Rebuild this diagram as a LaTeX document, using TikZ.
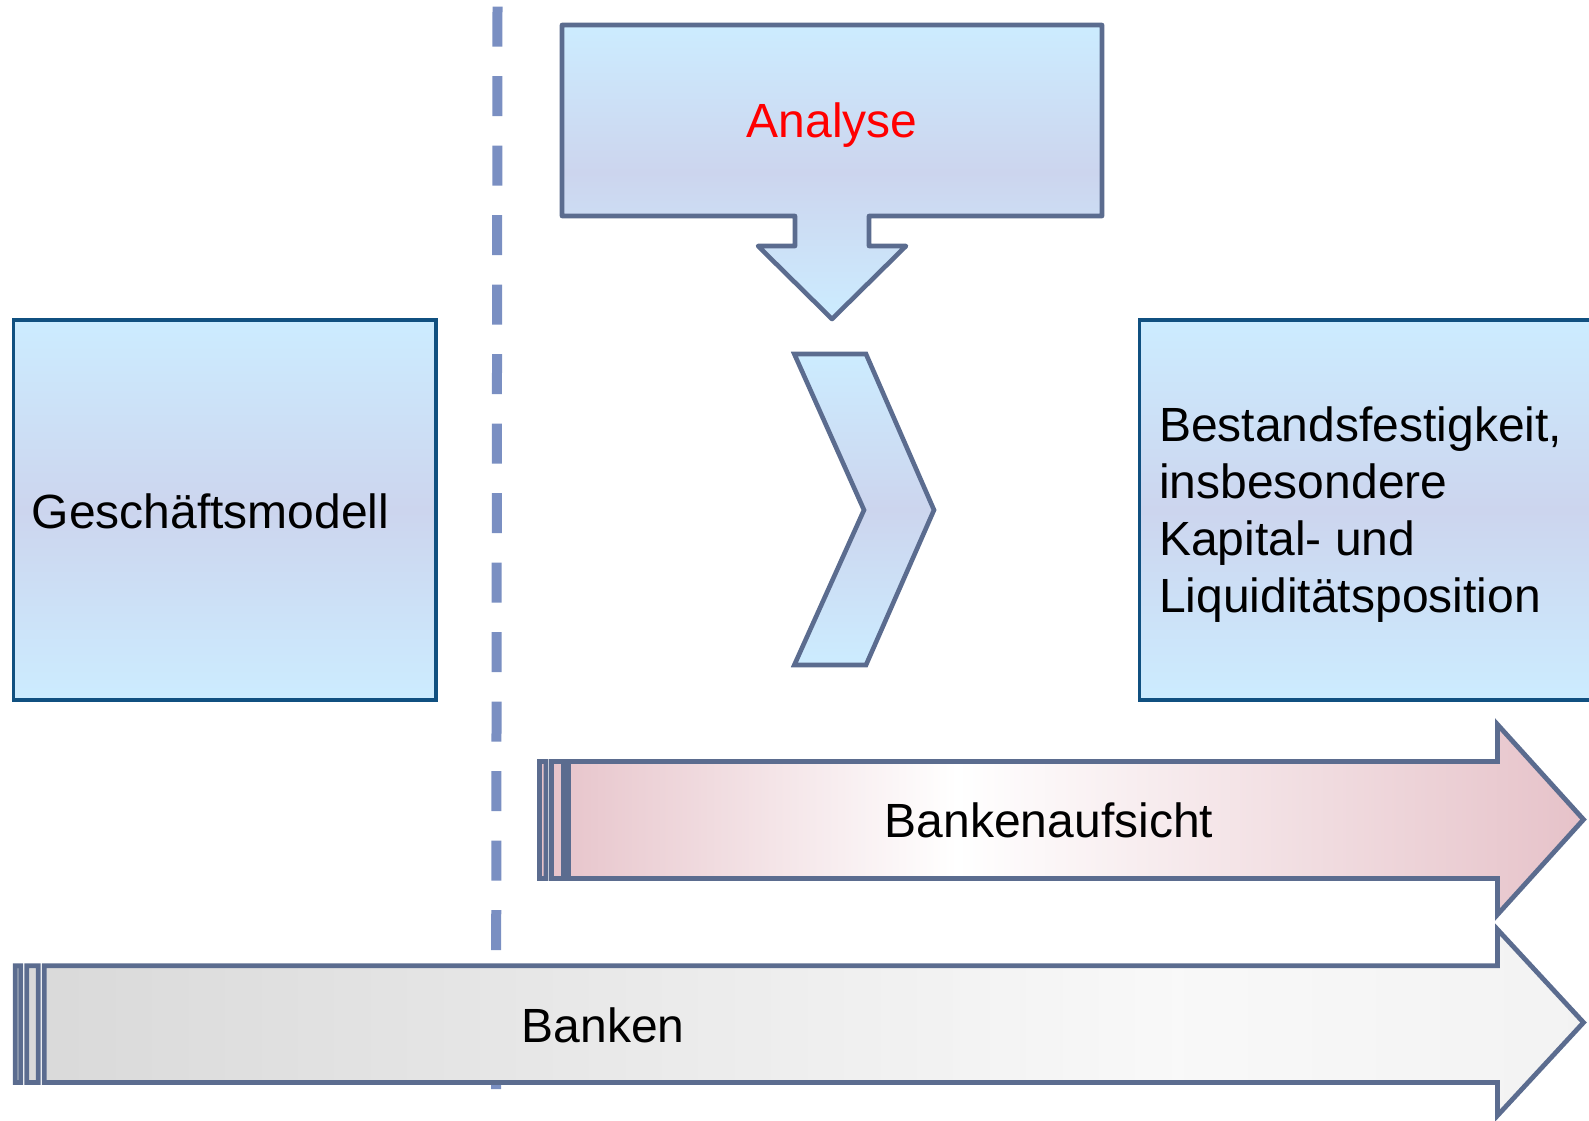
\documentclass[tikz,border=0pt]{standalone}
\usepackage{fontspec}
\setmainfont{Liberation Sans}
\definecolor{edgeslate}{RGB}{91,108,143}
\definecolor{boxedge}{RGB}{16,80,128}
\definecolor{dashblue}{RGB}{122,143,194}
\definecolor{bluetop}{RGB}{204,236,255}
\definecolor{bluemid}{RGB}{204,213,238}
\pgfdeclarehorizontalshading{pinkshade}{100bp}{rgb(0bp)=(0.902,0.761,0.788); rgb(25bp)=(0.902,0.761,0.788); rgb(45bp)=(1,1,1); rgb(75bp)=(0.902,0.761,0.788); rgb(100bp)=(0.902,0.761,0.788)}
\pgfdeclarehorizontalshading{grayshade}{100bp}{rgb(0bp)=(0.85,0.85,0.85); rgb(25bp)=(0.85,0.85,0.85); rgb(62bp)=(0.975,0.975,0.975); rgb(75bp)=(0.95,0.95,0.95); rgb(100bp)=(0.95,0.95,0.95)}
\begin{document}
\begin{tikzpicture}[x=1pt,y=-1pt,
  lbl/.style={inner sep=0pt, font=\fontsize{48}{57.3}\selectfont},
  bluefill/.style={top color=bluetop, bottom color=bluetop, middle color=bluemid},
  boxstyle/.style={bluefill, draw=boxedge, line width=3.4pt},
  slateshape/.style={bluefill, draw=edgeslate, line width=4.6pt, line join=miter},
  bandarrow/.style={shade, draw=edgeslate, line width=4.8pt, line join=miter}]
\useasboundingbox (0,0) rectangle (1589,1120);
% dashed separator
\draw[dashblue, line width=10pt, dash pattern=on 40pt off 29.5pt] (497.5,6.7) -- (496,1089);
% boxes
\draw[boxstyle] (13.3,320) rectangle (436,700);
\draw[boxstyle] (1139.5,320) rectangle (1595,700);
% Analyse callout
\path[slateshape, line join=round] (562,25) -- (1102,25) -- (1102,216) -- (869,216) -- (869,246) -- (906,246)
  -- (832,319) -- (758,246) -- (795,246) -- (795,216) -- (562,216) -- cycle;
% chevron
\path[slateshape] (794.3,354) -- (866,354) -- (934,510) -- (866,665) -- (794.3,665) -- (864,510) -- cycle;
% Bankenaufsicht arrow
\path[bandarrow, shading=pinkshade]
  (539.5,761.5) rectangle (546,878.5)
  (551.5,761.5) rectangle (563.5,878.5)
  (568.5,761.5) -- (1497.5,761.5) -- (1497.5,724.5) -- (1583.5,819.5) -- (1497.5,914.5)
  -- (1497.5,878.5) -- (568.5,878.5) -- cycle;
% Banken arrow
\path[bandarrow, shading=grayshade]
  (15.2,965.8) rectangle (20.8,1082.5)
  (26.7,965.8) rectangle (38.3,1082.5)
  (44.3,965.8) -- (1497.5,965.8) -- (1497.5,929.5) -- (1583.5,1022.5) -- (1497.5,1115.5)
  -- (1497.5,1082.5) -- (44.3,1082.5) -- cycle;
% texts
\node[lbl, anchor=base west] (gm) at (31.5,528) {Geschäftsmodell};
\node[lbl, anchor=base, text=red] (an) at (832,137) {Analyse};
\node[lbl, anchor=base west] (bf) at (1159,441) {\parbox[t]{430pt}{\raggedright Bestandsfestigkeit,\\insbesondere\\Kapital- und\\Liquiditätsposition}};
\node[lbl, anchor=base] (ba) at (1049,837) {Bankenaufsicht};
\node[lbl, anchor=base] (bk) at (603,1042) {Banken};
\end{tikzpicture}
\end{document}
